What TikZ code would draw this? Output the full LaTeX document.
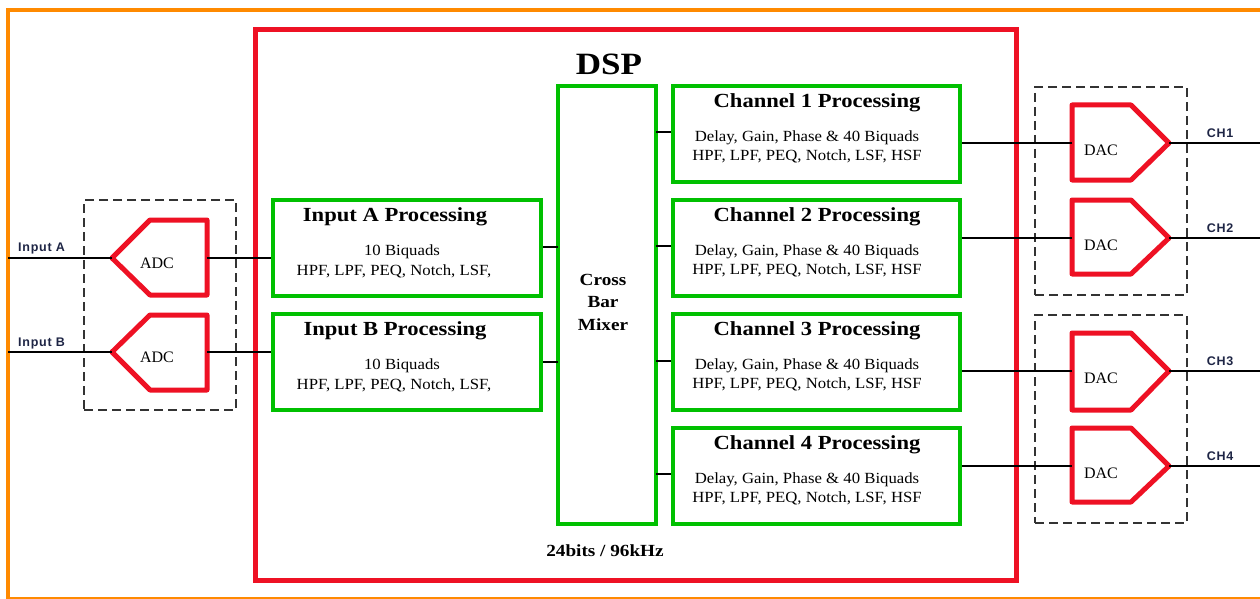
\documentclass[tikz,border=0pt]{standalone}
\usepackage{fontspec}
\setmainfont{Liberation Serif}
\newfontfamily\lblfont{Liberation Sans}[LetterSpace=6]
\newfontfamily\widefont{Liberation Serif}[FakeStretch=1.08]
\newfontfamily\wideboldfont{Liberation Serif Bold}[FakeStretch=1.13]
\definecolor{dspgreen}{HTML}{00C000}
\definecolor{dspred}{HTML}{EE1124}
\definecolor{dsporange}{HTML}{FF8A00}
\definecolor{lblnavy}{HTML}{1E2545}
\begin{document}
\begin{tikzpicture}[x=1pt,y=-1pt,
  procbox/.style={draw=dspgreen,line width=4.5pt,rectangle,inner sep=0pt,minimum width=#1,minimum height=96pt},
  conv/.style={draw=dspred,line width=5pt,line join=round},
  wire/.style={draw=black,line width=1.8pt},
  grp/.style={draw=black!80,line width=1.1pt,dash pattern=on 9pt off 5pt,rectangle,inner sep=0pt},
  ttl/.style={font=\wideboldfont\fontsize{20}{22}\selectfont,inner sep=0pt},
  body/.style={font=\widefont\fontsize{15.5}{17}\selectfont,inner sep=0pt},
  cvtxt/.style={font=\fontsize{16}{17}\selectfont,inner sep=0pt},
  sig/.style={font=\lblfont\fontsize{12.5}{14}\selectfont\bfseries,text=lblnavy,inner sep=0pt}
]
\useasboundingbox (0,0) rectangle (1260,599);
% outer orange frame
\draw[dsporange,line width=4pt] (1264,10) -- (8,10) -- (8,599) -- (1264,599);
% DSP red frame
\node[draw=dspred,line width=5pt,rectangle,inner sep=0pt,minimum width=761pt,minimum height=550pt] (dsp) at (635.5,305) {};
\node[font=\wideboldfont\fontsize{31}{33}\selectfont,inner sep=0pt] (dsptitle) at (609,64) {DSP};
\node[font=\wideboldfont\fontsize{17}{18}\selectfont,inner sep=0pt] (rate) at (605,551) {24bits / 96kHz};

% dashed groups
\node[grp,minimum width=152pt,minimum height=210pt] (adcgrp) at (160,305) {};
\node[grp,minimum width=152pt,minimum height=208pt] (dacgrpA) at (1111,191) {};
\node[grp,minimum width=152pt,minimum height=208pt] (dacgrpB) at (1111,419) {};

% input processing boxes
\node[procbox=268pt] (inA) at (407,248) {};
\node[procbox=268pt] (inB) at (407,362) {};
\node[ttl] (inAt) at (395,217) {Input A Processing};
\node[body] (inAb1) at (402,252) {10 Biquads};
\node[body] (inAb2) at (394,271) {HPF, LPF, PEQ, Notch, LSF,};
\node[ttl] (inBt) at (395,331) {Input B Processing};
\node[body] (inBb1) at (402,366) {10 Biquads};
\node[body] (inBb2) at (394,385) {HPF, LPF, PEQ, Notch, LSF,};

% crossbar
\node[draw=dspgreen,line width=4.5pt,rectangle,inner sep=0pt,minimum width=98pt,minimum height=438pt] (xbar) at (607,305) {};
\node[font=\wideboldfont\fontsize{17}{22.5}\selectfont,align=center,inner sep=0pt] (xbart) at (603,302) {Cross\\Bar\\Mixer};

% channel boxes
\foreach \i/\cy in {1/134,2/248,3/362,4/476}{
  \node[procbox=287pt] (ch\i) at (816.5,\cy) {};
  \node[ttl] (ch\i t) at (817,\cy-31) {Channel \i\ Processing};
  \node[body,align=center,font=\widefont\fontsize{15.5}{19}\selectfont] (ch\i b) at (807,\cy+13) {Delay, Gain, Phase \& 40 Biquads\\HPF, LPF, PEQ, Notch, LSF, HSF};
}

% ADCs
\foreach \n/\ty/\tp/\bt in {A/258/220/295,B/352/315/390}{
  \coordinate (adc\n in) at (112,\ty);
  \coordinate (adc\n out) at (207,\ty);
  \draw[conv] (adc\n in) -- (150,\tp) -- (207,\tp) -- (207,\bt) -- (150,\bt) -- cycle;
  \node[cvtxt] (adc\n t) at (157,\ty+5) {ADC};
}
\coordinate (srcA) at (8,258);
\coordinate (srcB) at (8,352);
\node[sig,anchor=west] (lblA) at (18,248) {Input A};
\node[sig,anchor=west] (lblB) at (18,343) {Input B};
\draw[wire] (srcA) -- (adcAin);
\draw[wire] (srcB) -- (adcBin);
\draw[wire] (adcAout) -- (inA.west |- adcAout);
\draw[wire] (adcBout) -- (inB.west |- adcBout);

% input boxes to crossbar
\coordinate (xA) at (558,247);
\coordinate (xB) at (558,362);
\draw[wire] (inA.east |- xA) -- (xA);
\draw[wire] (inB.east |- xB) -- (xB);

% crossbar to channels
\foreach \i/\yy in {1/132,2/246,3/361,4/474}{
  \coordinate (xo\i) at (656,\yy);
  \draw[wire] (xo\i) -- (ch\i.west |- xo\i);
}

% DACs
\foreach \i/\ty/\tp/\bt in {1/143/105/180,2/238/200/274,3/371/333/410,4/466/428/502}{
  \coordinate (dac\i in) at (1072,\ty);
  \coordinate (dac\i out) at (1169,\ty);
  \draw[conv] (1072,\tp) -- (1131,\tp) -- (dac\i out) -- (1131,\bt) -- (1072,\bt) -- cycle;
  \node[cvtxt] (dac\i t) at (1101,\ty+7) {DAC};
  \draw[wire] (ch\i.east |- dac\i in) -- (dac\i in);
  \coordinate (out\i) at (1262,\ty);
  \draw[wire] (dac\i out) -- (out\i);
  \node[sig] (lblch\i) at (1220,\ty-10) {CH\i};
}
\end{tikzpicture}
\end{document}
